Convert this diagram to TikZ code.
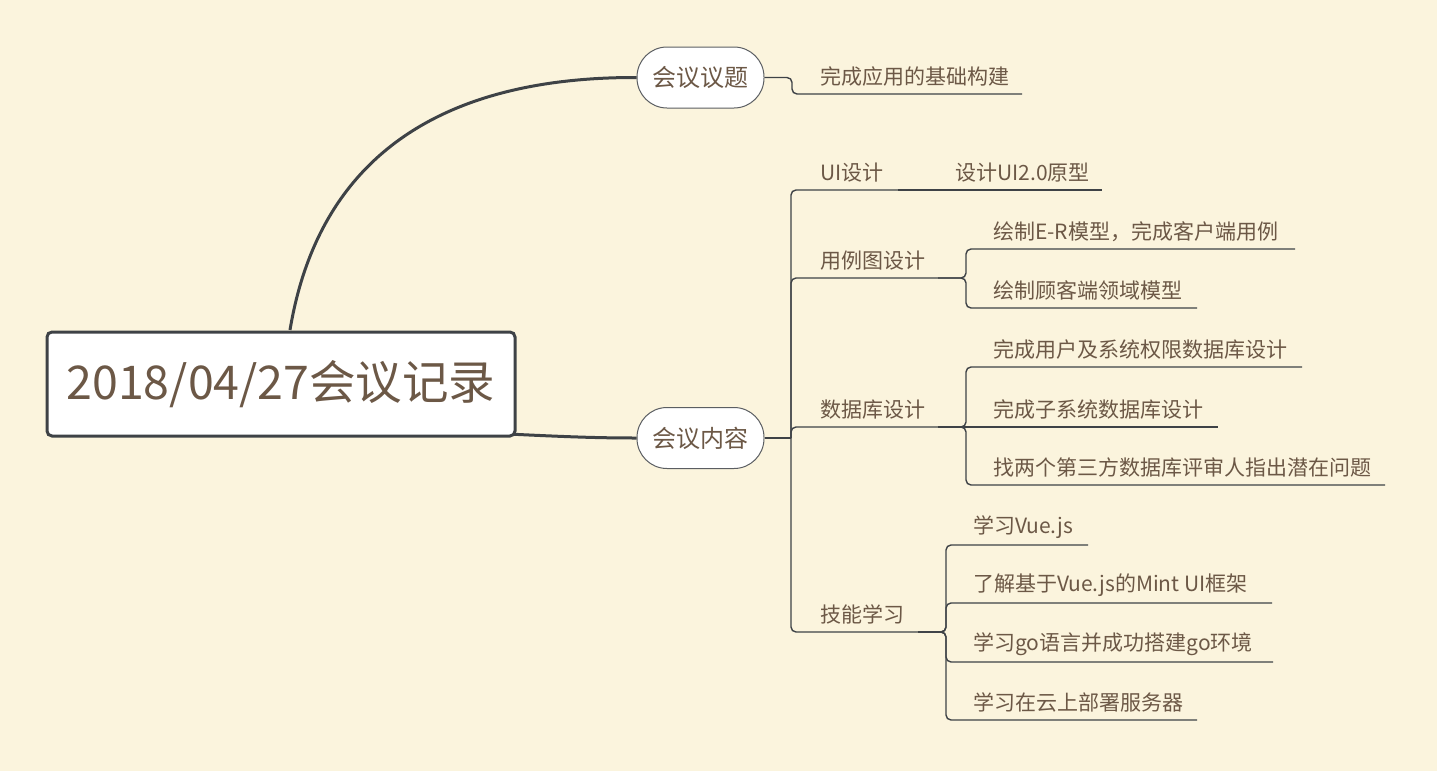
\documentclass[tikz,border=0pt]{standalone}
\usepackage{fontspec}
\setmainfont{Noto Sans CJK SC}
\definecolor{bg}{RGB}{251,244,221}
\definecolor{txt}{RGB}{108,88,70}
\definecolor{ln}{RGB}{62,66,70}
\newcommand\fs[1]{\fontsize{#1}{#1}\selectfont}
\newcommand\mytopic[6]{%
  \coordinate (#1-s) at (#2,#3);
  \coordinate (#1-e) at (#4,#3);
  \node[topic] (#1) at (#5,#3-17.5) {#6};}
\begin{document}
\begin{tikzpicture}[x=1pt,y=-1pt,
  topic/.style={anchor=west, inner sep=0pt, font=\fs{21}, text=txt},
  link/.style={draw=ln, line width=1.4pt, rounded corners=5pt},
  main/.style={draw=ln, line width=3pt},
  oval/.style={draw=ln!85, line width=1pt, fill=white, rounded corners=30pt,
    minimum width=127pt, minimum height=61pt, font=\fs{24}, text=txt, inner sep=0pt}]
\fill[bg] (0,0) rectangle (1437,771);
\useasboundingbox (0,0) rectangle (1437,771);

\node[oval] (t1) at (700.5,77.5) {会议议题};
\node[oval] (t2) at (700.5,438) {会议内容};

\draw[main] (290,330) .. controls (320,150) and (450,77) .. (t1.west);
\draw[main] (508,434) .. controls (570,437) and (600,438) .. (t2.west);

\node[draw=ln, line width=3pt, fill=white, rounded corners=5pt, minimum width=468pt,
  minimum height=104pt, font=\fs{46.5}, text=txt, inner sep=0pt] (root) at (281,384) {2018/04/27会议记录};

% topic of the meeting
\mytopic{a1}{792}{94}{1022}{820}{完成应用的基础构建}
\draw[link] (t1.east) -| (a1-s) -- (a1-e);

% contents
\coordinate (hub) at (791,438);
\draw[link] (t2.east) -- (hub);
\mytopic{ui}{791}{190}{898}{820}{UI设计}
\mytopic{uc}{791}{278}{938}{820}{用例图设计}
\mytopic{db}{791}{427}{938}{820}{数据库设计}
\mytopic{sk}{791}{632}{918}{820}{技能学习}
\foreach \b in {ui,uc,db,sk} \draw[link] (hub) |- (\b-e);

\mytopic{ui1}{898}{190}{1102}{955}{设计UI2.0原型}
\draw[link] (ui-e) -- (ui1-e);

\mytopic{uc1}{966}{249}{1295}{993}{绘制E-R模型，完成客户端用例}
\mytopic{uc2}{966}{308}{1197}{993}{绘制顾客端领域模型}
\draw[link] (uc-e) -| (uc1-s) -- (uc1-e);
\draw[link] (uc-e) -| (uc2-s) -- (uc2-e);

\mytopic{db1}{966}{367}{1302}{993}{完成用户及系统权限数据库设计}
\mytopic{db2}{966}{427}{1218}{993}{完成子系统数据库设计}
\mytopic{db3}{966}{485}{1385}{993}{找两个第三方数据库评审人指出潜在问题}
\draw[link] (db-e) -| (db1-s) -- (db1-e);
\draw[link] (db-e) -- (db2-e);
\draw[link] (db-e) -| (db3-s) -- (db3-e);

\mytopic{sk1}{946}{545}{1088}{973}{学习Vue.js}
\mytopic{sk2}{946}{603}{1272}{973}{了解基于Vue.js的Mint UI框架}
\mytopic{sk3}{946}{662}{1273}{973}{学习go语言并成功搭建go环境}
\mytopic{sk4}{946}{720}{1197}{973}{学习在云上部署服务器}
\foreach \c in {sk1,sk2,sk3,sk4} \draw[link] (sk-e) -| (\c-s) -- (\c-e);
\end{tikzpicture}
\end{document}
